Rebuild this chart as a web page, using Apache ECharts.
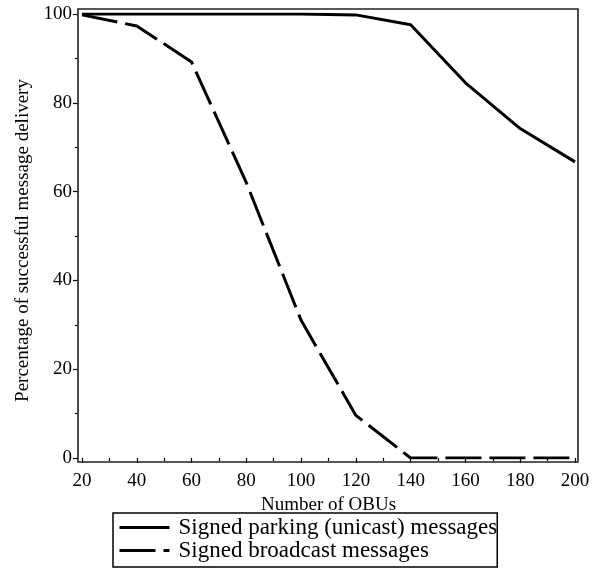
<!DOCTYPE html>
<html>
<head>
<meta charset="utf-8">
<script src="https://cdn.jsdelivr.net/npm/echarts@6/dist/echarts.min.js"></script>
<style>
html,body{margin:0;padding:0;background:#fff;}
#chart{width:602px;height:569px;}
</style>
</head>
<body>
<div id="chart"></div>
<script>
const xValues = [20, 40, 60, 80, 100, 120, 140, 160, 180, 200];
const unicastValues = [100, 100, 100, 100, 100, 99.8, 97.6, 84.5, 74.2, 66.7];
const broadcastValues = [99.8, 97.3, 89.2, 62, 31, 9.6, 0, 0, 0, 0];
const seriesNames = ['Signed parking (unicast) messages', 'Signed broadcast messages'];
const xTitle = 'Number of OBUs';
const yTitle = 'Percentage of successful message delivery';

const FONT = 'Liberation Serif';
const chart = echarts.init(document.getElementById('chart'), null, {renderer: 'canvas'});
const pairs = arr => xValues.map((x, i) => [x, arr[i]]);

chart.setOption({
  animation: false,
  backgroundColor: '#fff',
  grid: {left: 82, right: 27, top: 14, bottom: 111, containLabel: false},
  xAxis: {
    type: 'value', min: 20, max: 200, interval: 20, offset: 4,
    name: xTitle, nameLocation: 'middle', nameGap: 27,
    nameTextStyle: {fontFamily: FONT, fontSize: 19, color: '#000'},
    axisLine: {show: false},
    axisTick: {show: true, length: 5, lineStyle: {color: '#000', width: 1.2}},
    minorTick: {show: true, splitNumber: 2, length: 3, lineStyle: {color: '#000', width: 1.2}},
    axisLabel: {fontFamily: FONT, fontSize: 19, color: '#000', margin: 10},
    splitLine: {show: false}
  },
  yAxis: {
    type: 'value', min: 0, max: 100, interval: 20, offset: 4,
    name: yTitle, nameLocation: 'middle', nameGap: 38,
    nameTextStyle: {fontFamily: FONT, fontSize: 19, color: '#000', padding: [0, 9, 0, 0]},
    axisLine: {show: false},
    axisTick: {show: true, length: 5, lineStyle: {color: '#000', width: 1.2}},
    minorTick: {show: true, splitNumber: 2, length: 3, lineStyle: {color: '#000', width: 1.2}},
    axisLabel: {fontFamily: FONT, fontSize: 19, color: '#000', margin: 6},
    splitLine: {show: false}
  },
  legend: {
    orient: 'vertical', left: 113, top: 513,
    padding: [3, 0, 5, 5], itemWidth: 50, itemHeight: 22, itemGap: 0,
    borderColor: '#000', borderWidth: 1.5,
    itemStyle: {opacity: 0},
    lineStyle: {width: 3, color: '#000'},
    textStyle: {fontFamily: FONT, fontSize: 23, lineHeight: 22, color: '#000', padding: [0, 0, 0, 4]},
    data: seriesNames
  },
  graphic: [{
    type: 'rect', z: 100, silent: true,
    shape: {x: 78, y: 9, width: 500, height: 453},
    style: {fill: 'none', stroke: '#222', lineWidth: 1.6}
  }],
  series: [
    {
      name: seriesNames[0], type: 'line', data: pairs(unicastValues),
      symbol: 'none', color: '#000',
      lineStyle: {color: '#000', width: 3, type: 'solid'}
    },
    {
      name: seriesNames[1], type: 'line', data: pairs(broadcastValues),
      symbol: 'none', color: '#000',
      lineStyle: {color: '#000', width: 3, type: [36, 8]}
    }
  ]
});
</script>
</body>
</html>
